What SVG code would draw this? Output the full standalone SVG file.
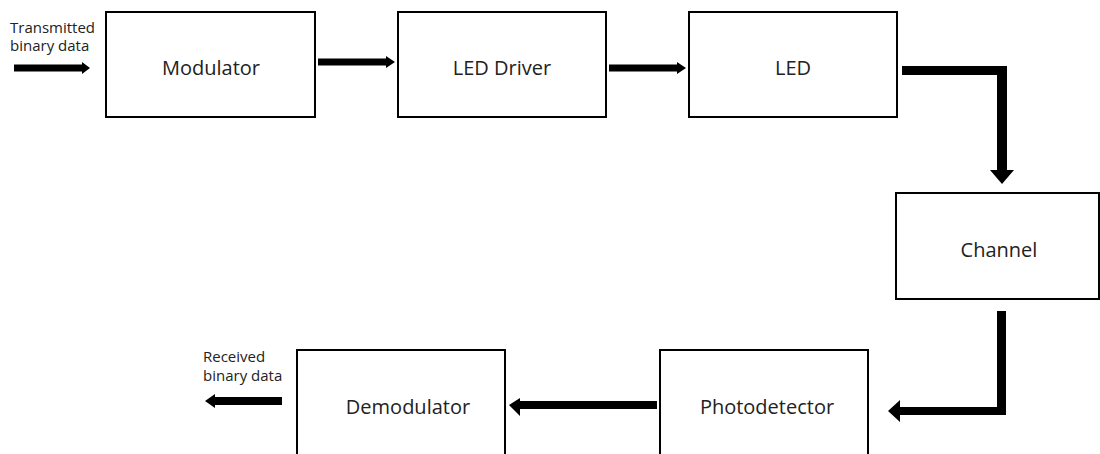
<svg xmlns="http://www.w3.org/2000/svg" width="1100" height="454" viewBox="0 0 1100 454">
<style>
.box{fill:#fff;stroke:#000;stroke-width:2}
.lbl{font-family:"Open Sans","Liberation Sans",sans-serif;font-size:20px;fill:#222;text-anchor:middle}
.sm{font-family:"Open Sans","Liberation Sans",sans-serif;font-size:15px;fill:#222}
.arr{fill:#000}
</style>
<rect width="1100" height="454" fill="#fff"/>
<g id="modulator"><rect class="box" x="106" y="12" width="209" height="105"/><text class="lbl" x="211" y="75">Modulator</text></g>
<g id="led-driver"><rect class="box" x="398" y="12" width="208" height="105"/><text class="lbl" x="502" y="75">LED Driver</text></g>
<g id="led"><rect class="box" x="689" y="12" width="208" height="105"/><text class="lbl" x="793" y="75">LED</text></g>
<g id="channel"><rect class="box" x="896" y="193" width="203" height="106"/><text class="lbl" x="999" y="257">Channel</text></g>
<g id="photodetector"><rect class="box" x="660" y="350" width="208" height="112"/><text class="lbl" x="767" y="414">Photodetector</text></g>
<g id="demodulator"><rect class="box" x="297" y="350" width="208" height="112"/><text class="lbl" x="408" y="414">Demodulator</text></g>
<g id="input-label"><text class="sm" x="10" y="33">Transmitted</text><text class="sm" x="10" y="51">binary data</text></g>
<g id="output-label"><text class="sm" x="203" y="362">Received</text><text class="sm" x="203" y="381">binary data</text></g>
<g id="connectors">
<polygon class="arr" points="14,64.5 82,64.5 82,62 90,68 82,74 82,71.5 14,71.5"/>
<polygon class="arr" points="318,58.5 386,58.5 386,56 395,62 386,68 386,65.5 318,65.5"/>
<polygon class="arr" points="609,64.5 677,64.5 677,62 686,68 677,74 677,71.5 609,71.5"/>
<polygon class="arr" points="902,66 1007,66 1007,170 1014,170 1002,184 990,170 997,170 997,75 902,75"/>
<polygon class="arr" points="997,311 1006,311 1006,415 900,415 900,422 888,411 900,400 900,407 997,407"/>
<polygon class="arr" points="657,401 657,409 520,409 520,416 509,405 520,398 520,401"/>
<polygon class="arr" points="282,397 282,405 215,405 215,408 205,401 215,394 215,397"/>
</g>
</svg>
